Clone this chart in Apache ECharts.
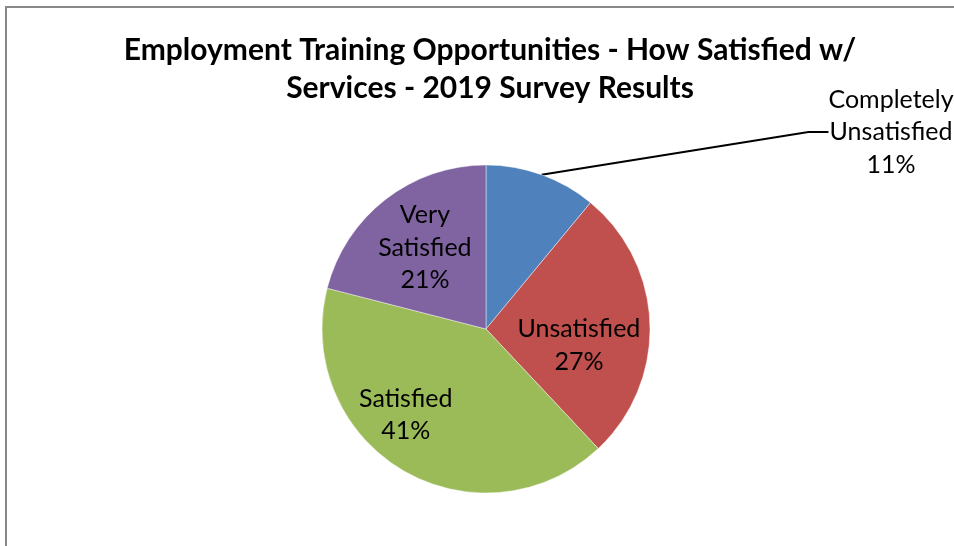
<!DOCTYPE html>
<html>
<head>
<meta charset="utf-8">
<script src="https://cdn.jsdelivr.net/npm/echarts@6/dist/echarts.min.js"></script>
<style>
html,body{margin:0;padding:0;background:#fff;overflow:hidden;}
#c{width:954px;height:546px;}
</style>
</head>
<body>
<div id="c"></div>
<script>
const titleLines = ["Employment Training Opportunities - How Satisfied w/", "Services - 2019 Survey Results"];
const categories = ["Completely\nUnsatisfied", "Unsatisfied", "Satisfied", "Very\nSatisfied"];
const values = [11, 27, 41, 21];
const colors = ["#4F81BD", "#C0504D", "#9BBB59", "#8064A2"];

const FONT = "Lato";
const chart = echarts.init(document.getElementById('c'), null, {renderer: 'canvas'});

const labelShift = [null, [8, 19], [-37, 13], [-9, -14]];

chart.setOption({
  animation: false,
  backgroundColor: '#fff',
  title: {
    text: titleLines.join('\n'),
    left: 490, top: 31, textAlign: 'center', padding: 0,
    textStyle: {fontFamily: FONT, fontWeight: 'bold', fontSize: 30, color: '#000', lineHeight: 38}
  },
  graphic: [{
    type: 'rect', shape: {x: 6, y: 7, width: 1000, height: 600},
    style: {fill: 'none', stroke: '#888', lineWidth: 2}, silent: true
  }],
  series: [{
    type: 'pie',
    center: [486, 329],
    radius: [0, 164],
    startAngle: 90,
    clockwise: true,
    avoidLabelOverlap: false,
    itemStyle: {borderColor: 'rgba(255,255,255,0.55)', borderWidth: 0.8},
    label: {
      position: 'inside',
      formatter: '{b}\n{d}%',
      fontFamily: FONT, fontSize: 25, lineHeight: 32.5, color: '#000', align: 'center'
    },
    labelLine: {show: false},
    data: values.map((v, i) => {
      const d = {name: categories[i], value: v, itemStyle: {color: colors[i]}};
      if (i === 0) {
        d.label = {position: 'outside', formatter: '{b}\n{d}%', align: 'center'};
        d.labelLine = {show: true, length: 20, length2: 20, lineStyle: {color: '#000', width: 2}};
      }
      return d;
    }),
    labelLayout: function (p) {
      if (p.dataIndex === 0) {
        return {x: 891, y: 132, align: 'center', verticalAlign: 'middle'};
      }
      const s = labelShift[p.dataIndex];
      return {dx: s[0], dy: s[1]};
    }
  }]
});
</script>
</body>
</html>
